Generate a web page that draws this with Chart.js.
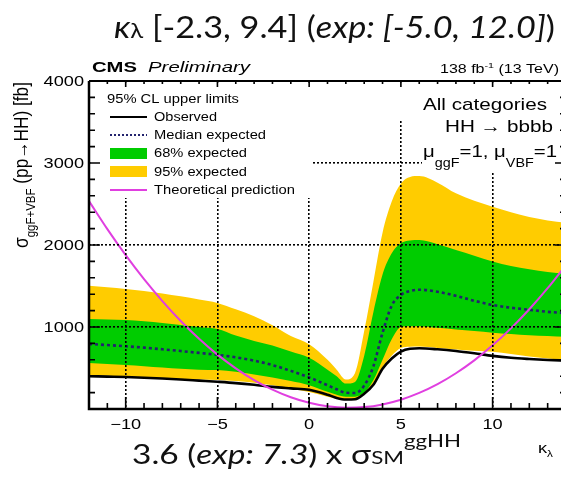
<!DOCTYPE html>
<html><head><meta charset="utf-8">
<script src="https://cdn.jsdelivr.net/npm/chart.js@4/dist/chart.umd.min.js"></script>
<style>
html,body{margin:0;padding:0;background:#fff;overflow:hidden;width:561px;height:482px}
canvas{display:block}
</style></head>
<body>
<canvas id="c" width="570" height="482" style="width:570px;height:482px"></canvas>
<script>
// ---- data ----
const kappa = [-12,-11,-10,-9,-8,-7,-6,-5,-4,-3,-2,-1,0,1,1.5,2,2.5,3,3.5,4,4.5,5,5.5,6,7,8,9,10,11,12,13,14];
const observed  = [400,395,390,382,372,360,346,332,316,295,270,252,235,175,135,115,118,185,295,490,615,700,735,740,728,708,680,648,625,610,598,590];
const expMedian = [793,780,765,748,728,707,684,660,630,590,535,465,385,290,240,198,195,285,520,930,1260,1390,1440,1455,1430,1380,1320,1268,1235,1210,1185,1170];
const exp68Up   = [1098,1092,1085,1070,1050,1025,1000,975,895,830,775,700,625,480,400,310,330,650,1180,1640,1900,2020,2055,2060,2010,1940,1870,1800,1745,1705,1670,1650];
const exp68Down = [561,549,537,522,506,490,480,475,455,420,385,340,290,210,175,150,150,200,350,600,850,1000,1010,1010,990,970,950,930,915,900,890,880];
const exp95Up   = [1504,1485,1464,1440,1410,1375,1335,1293,1215,1130,1020,890,790,600,480,360,440,950,1550,2150,2530,2750,2830,2840,2760,2630,2540,2467,2400,2340,2300,2270];
const exp95Down = [415,405,395,385,375,365,360,354,340,320,290,250,207,150,125,110,110,200,320,510,650,744,760,762,745,725,710,699,670,640,615,600];
const kappaTheory = [-12,-11,-10,-9,-8,-7,-6,-5,-4,-3,-2,-1,0,1,2,3,4,5,6,7,8,9,10,11,12,13,14];
const theory = [2535,2193,1876,1583,1316,1073,856,663,496,353,236,143,76,33,16,23,56,113,196,303,436,593,776,983,1216,1473,1756];
const xTickValues = [-10,-5,0,5,10];
const xTickLabels = ['\u221210','\u22125','0','5','10'];
const yTickValues = [1000,2000,3000,4000];
const yTickLabels = ['1000','2000','3000','4000'];

const YELLOW = '#ffcc00', GREEN = '#00cc00', MAGENTA = '#e03fe0', MEDIAN = '#23236e';
const SX = 1.3;
const HEL = '"Liberation Sans", Arial, sans-serif';
const GILL = 'Lato, "Open Sans", sans-serif';

const pts = (xs, ys) => xs.map((x, i) => ({x: x, y: ys[i]}));

function drawRuns(ctx, runs, x, y, o) {
  o = o || {};
  let total = 0;
  runs.forEach(r => { ctx.font = r.f; r.w = ctx.measureText(r.t).width; total += r.w; });
  const sx = o.width ? o.width / total : (o.sx || 1);
  const w = total * sx;
  const x0 = o.align === 'right' ? x - w : (o.align === 'center' ? x - w / 2 : x);
  ctx.save();
  ctx.translate(x0, y);
  ctx.scale(sx, o.sy || 1);
  ctx.textAlign = 'left'; ctx.textBaseline = 'alphabetic';
  let cx = 0;
  runs.forEach(r => { ctx.font = r.f; ctx.fillStyle = r.c || o.color || '#000'; ctx.fillText(r.t, cx, r.dy || 0); cx += r.w; });
  ctx.restore();
}

const deco = {
  id: 'deco',
  afterDraw(chart) {
    const ctx = chart.ctx;
    const xs = chart.scales.x, ys = chart.scales.y;
    const {left: L, right: R, top: T, bottom: B} = chart.chartArea;
    ctx.save();
    // white panes of legend / text boxes
    ctx.fillStyle = '#fff';
    ctx.fillRect(L + 1.5, T + 1.5, 312 - L - 1.5, 198 - T - 1.5);
    ctx.fillRect(399, T + 1.5, R - 399, 121 - T - 1.5);
    ctx.fillRect(422, 121, R - 422, 52);

    // frame
    ctx.strokeStyle = '#000';
    ctx.lineWidth = 2.5;
    ctx.beginPath(); ctx.moveTo(L, T); ctx.lineTo(L, B); ctx.lineTo(R, B); ctx.stroke();
    ctx.lineWidth = 2;
    ctx.beginPath(); ctx.moveTo(L, T); ctx.lineTo(R, T); ctx.lineTo(R, B); ctx.stroke();

    // inward ticks
    ctx.lineWidth = 1.6;
    ctx.beginPath();
    for (let v = -12; v <= 14; v++) {
      const px = xs.getPixelForValue(v);
      const maj = v % 5 === 0;
      ctx.moveTo(px, B); ctx.lineTo(px, B - (maj ? 12 : 6));
      ctx.moveTo(px, T); ctx.lineTo(px, T + (maj ? 6 : 3));
    }
    for (let v = 0; v <= 4000; v += 200) {
      const py = ys.getPixelForValue(v);
      const maj = v % 1000 === 0;
      ctx.moveTo(L, py); ctx.lineTo(L + (maj ? 11 : 6), py);
      ctx.moveTo(R, py); ctx.lineTo(R - (maj ? 11 : 6), py);
    }
    ctx.stroke();

    // tick labels
    const tf = '14px ' + HEL;
    xTickValues.forEach((v, i) => drawRuns(ctx, [{t: xTickLabels[i], f: tf}], xs.getPixelForValue(v), 428.5, {align: 'center', sx: SX}));
    yTickValues.forEach((v, i) => drawRuns(ctx, [{t: yTickLabels[i], f: tf}], L - 5, ys.getPixelForValue(v) + 5, {align: 'right', sx: SX}));

    // y axis title (rotated)
    ctx.save();
    ctx.translate(28, 248);
    ctx.rotate(-Math.PI / 2);
    drawRuns(ctx, [
      {t: '\u03c3', f: '15px ' + HEL},
      {t: 'ggF+VBF', f: '10px ' + HEL, dy: 5},
      {t: ' (pp\u2192HH) [fb]', f: '15px ' + HEL}
    ], 0, 0, {width: 166, sy: SX});
    ctx.restore();

    // x axis title
    drawRuns(ctx, [{t: '\u03ba', f: '14px ' + HEL}, {t: '\u03bb', f: '9px ' + HEL, dy: 4}], 538, 453, {sx: SX});

    // CMS labels
    drawRuns(ctx, [{t: 'CMS', f: 'bold 15px ' + HEL}], 92, 72, {width: 45});
    drawRuns(ctx, [{t: 'Preliminary', f: 'italic 15px ' + HEL}], 148, 72, {width: 102});
    drawRuns(ctx, [{t: '138 fb', f: '12px ' + HEL}, {t: '-1', f: '8px ' + HEL, dy: -5}, {t: ' (13 TeV)', f: '12px ' + HEL}], 559, 73, {align: 'right', width: 119});

    // legend
    drawRuns(ctx, [{t: '95% CL upper limits', f: '12px ' + HEL}], 107, 103.3, {width: 132});
    const lf = '12px ' + HEL;
    drawRuns(ctx, [{t: 'Observed', f: lf}], 154, 121, {width: 63});
    drawRuns(ctx, [{t: 'Median expected', f: lf}], 154, 139, {width: 112});
    drawRuns(ctx, [{t: '68% expected', f: lf}], 154, 157, {width: 93});
    drawRuns(ctx, [{t: '95% expected', f: lf}], 154, 175.5, {width: 93});
    drawRuns(ctx, [{t: 'Theoretical prediction', f: lf}], 154, 194, {width: 141});
    ctx.lineWidth = 2;
    ctx.strokeStyle = '#000';
    ctx.beginPath(); ctx.moveTo(110, 117); ctx.lineTo(147, 117); ctx.stroke();
    ctx.strokeStyle = MEDIAN; ctx.setLineDash([2, 2]);
    ctx.beginPath(); ctx.moveTo(110, 135); ctx.lineTo(147, 135); ctx.stroke();
    ctx.setLineDash([]);
    ctx.fillStyle = GREEN; ctx.fillRect(110, 148, 37, 11);
    ctx.fillStyle = YELLOW; ctx.fillRect(110, 166, 37, 11);
    ctx.strokeStyle = MAGENTA;
    ctx.beginPath(); ctx.moveTo(110, 190); ctx.lineTo(147, 190); ctx.stroke();

    // category text
    drawRuns(ctx, [{t: 'All categories', f: '17px ' + HEL}], 547, 110, {align: 'right', width: 124});
    drawRuns(ctx, [{t: 'HH \u2192 bbbb', f: '17px ' + HEL}], 553, 132, {align: 'right', width: 108});
    drawRuns(ctx, [
      {t: '\u03bc', f: '17px ' + HEL}, {t: 'ggF', f: '12px ' + HEL, dy: 10},
      {t: '=1, \u03bc', f: '17px ' + HEL}, {t: 'VBF', f: '12px ' + HEL, dy: 10},
      {t: '=1', f: '17px ' + HEL}
    ], 423, 157, {width: 134});

    // slide title and bottom text
    drawRuns(ctx, [
      {t: '\u03ba', f: 'italic 30px ' + GILL}, {t: '\u03bb', f: '21px ' + GILL},
      {t: ' [-2.3, 9.4] (', f: '30px ' + GILL},
      {t: 'exp: [-5.0, 12.0]', f: 'italic 30px ' + GILL},
      {t: ')', f: '30px ' + GILL}
    ], 114, 37.5, {width: 441, color: '#111'});
    drawRuns(ctx, [
      {t: '3.6 (', f: '27px ' + GILL},
      {t: 'exp: 7.3', f: 'italic 27px ' + GILL},
      {t: ') x \u03c3', f: '27px ' + GILL},
      {t: 'SM', f: '18px ' + GILL},
      {t: 'ggHH', f: '18px ' + GILL, dy: -17}
    ], 132, 464, {width: 329, color: '#111'});
    ctx.restore();
  }
};

function make() {
  const common = {pointRadius: 0, cubicInterpolationMode: 'monotone'};
  new Chart(document.getElementById('c'), {
    type: 'line',
    data: {
      datasets: [
        Object.assign({data: pts(kappa, exp95Up), borderWidth: 0, fill: 1, backgroundColor: YELLOW, order: 4}, common),
        Object.assign({data: pts(kappa, exp95Down), borderWidth: 0, fill: false, order: 4}, common),
        Object.assign({data: pts(kappa, exp68Up), borderWidth: 0, fill: 3, backgroundColor: GREEN, order: 3}, common),
        Object.assign({data: pts(kappa, exp68Down), borderWidth: 0, fill: false, order: 3}, common),
        Object.assign({data: pts(kappa, expMedian), borderColor: MEDIAN, borderWidth: 2.6, borderDash: [3, 3], fill: false, order: 2}, common),
        Object.assign({data: pts(kappa, observed), borderColor: '#000', borderWidth: 2.6, fill: false, order: 1}, common),
        Object.assign({data: pts(kappaTheory, theory), borderColor: MAGENTA, borderWidth: 2, fill: false, order: 0}, common)
      ]
    },
    options: {
      responsive: false,
      animation: false,
      devicePixelRatio: 1,
      layout: {padding: {top: 81, right: 4, left: 0, bottom: 0}},
      plugins: {legend: {display: false}, tooltip: {enabled: false}, title: {display: false}},
      scales: {
        x: {
          type: 'linear', min: -12, max: 14,
          afterFit: s => { s.height = 73; },
          ticks: {display: false, stepSize: 5, includeBounds: false},
          grid: {z: 1, color: '#000', lineWidth: 1.6, drawTicks: false},
          border: {display: false, dash: [2, 2]}
        },
        y: {
          type: 'linear', min: 0, max: 4000,
          afterFit: s => { s.width = 89; },
          ticks: {display: false, stepSize: 1000, includeBounds: false},
          grid: {z: 1, color: '#000', lineWidth: 1.6, drawTicks: false},
          border: {display: false, dash: [2, 2]}
        }
      }
    },
    plugins: [deco]
  });
}
const fontsToLoad = ['30px Lato', 'italic 30px Lato', '14px "Liberation Sans"', 'bold 15px "Liberation Sans"', 'italic 15px "Liberation Sans"'];
Promise.all(fontsToLoad.map(f => document.fonts.load(f))).then(make, make);
</script>
</body></html>
